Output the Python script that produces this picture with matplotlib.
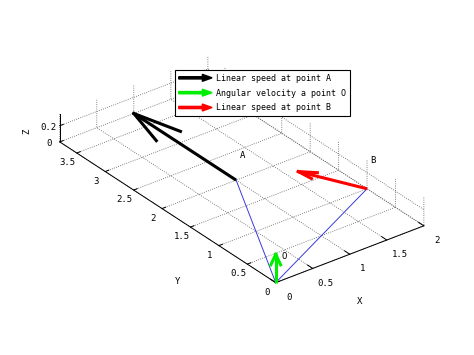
import numpy as np
import matplotlib.pyplot as plt
from matplotlib.patches import FancyArrow
from matplotlib.legend_handler import HandlerPatch

plt.rcParams['grid.linestyle'] = ':'
plt.rcParams['grid.color'] = '0.35'
plt.rcParams['grid.linewidth'] = 0.6
plt.rcParams['font.family'] = 'DejaVu Sans Mono'

# points of the mechanism
O = np.array([0.0, 0.0, 0.0])
A = np.array([1.0, 2.0, 0.0])
B = np.array([2.0, 1.0, 0.0])

# vectors
vA = np.array([0.0, 1.8, 0.0])      # linear speed at A
wO = np.array([0.0, 0.0, 0.35])     # angular velocity at O
vB = np.array([-0.36, 0.74, 0.0])   # linear speed at B

labels = ['Linear speed at point A', 'Angular velocity a point O', 'Linear speed at point B']
colors = ['black', '#00ee00', 'red']

xticks = [0, 0.5, 1, 1.5, 2]
xticklabels = ['0', '0.5', '1', '1.5', '2']
yticks = [0, 0.5, 1, 1.5, 2, 2.5, 3, 3.5]
yticklabels = ['0', '0.5', '1', '1.5', '2', '2.5', '3', '3.5']
zticks = [0, 0.2]
zticklabels = ['0', '0.2']

elev, azim = 30, -127.5
screen_right = np.array([-np.sin(np.radians(azim)), np.cos(np.radians(azim)), 0.0])


def arrow3(ax, P, V, color, lw, ratio, ang, perp=None):
    tip = P + V
    n = np.linalg.norm(V)
    u = -V / n
    if perp is None:
        perp = np.cross(V / n, [0, 0, 1])
        perp = perp / np.linalg.norm(perp)
    L = ratio * n
    a = np.radians(ang)
    ax.plot([P[0], tip[0]], [P[1], tip[1]], [P[2], tip[2]], color=color, lw=lw,
            solid_capstyle='butt')
    for s in (1, -1):
        b = tip + L * (np.cos(a) * u + s * np.sin(a) * perp)
        ax.plot([tip[0], b[0]], [tip[1], b[1]], [tip[2], b[2]], color=color, lw=lw)


fig = plt.figure(figsize=(4.74, 3.55), dpi=100, facecolor='w')
ax = fig.add_axes([0.0, 3 / 355, 1.0, 1.0], projection='3d', proj_type='ortho')
ax.set_xlim(0, 2)
ax.set_ylim(0, 3.8)
ax.set_zlim(0, 0.35)
ax.set_box_aspect((2, 3.8, 0.35), zoom=1.1)
ax.view_init(elev=elev, azim=azim)

for axis in (ax.xaxis, ax.yaxis, ax.zaxis):
    axis.set_pane_color((1, 1, 1, 0))
    axis.pane.set_edgecolor('none')
    axis.line.set_color('black')
    axis.line.set_linewidth(0.7)
    axis._axinfo['tick']['inward_factor'] = 0.0
    axis._axinfo['tick']['outward_factor'] = 0.3
    axis._axinfo['tick']['linewidth'] = {True: 0.7, False: 0.5}

ax.set_xticks(xticks)
ax.set_xticklabels(xticklabels)
ax.set_yticks(yticks)
ax.set_yticklabels(yticklabels)
ax.set_zticks(zticks)
ax.set_zticklabels(zticklabels)
ax.tick_params(labelsize=6.5, pad=0)
ax.tick_params(axis='z', pad=-4)

# axis names, placed like the reference
fig.text(360 / 474, 1 - 302 / 355, 'X', fontsize=6.5, ha='center', va='center')
fig.text(178 / 474, 1 - 281 / 355, 'Y', fontsize=6.5, ha='center', va='center')
fig.text(27 / 474, 1 - 131 / 355, 'Z', fontsize=6.5, ha='center', va='center',
         rotation=90)

# links O-A and O-B
ax.plot([O[0], A[0]], [O[1], A[1]], [O[2], A[2]], color='#3a3ae0', lw=0.7)
ax.plot([O[0], B[0]], [O[1], B[1]], [O[2], B[2]], color='#3a3ae0', lw=0.7)

arrow3(ax, A, vA, colors[0], 2.2, 0.35, 15)
arrow3(ax, O, wO, colors[1], 2.2, 0.4, 22, perp=screen_right)
arrow3(ax, B, vB, colors[2], 2.2, 0.25, 20)

ax.text(1.05, 2.0, 0.26, 'A', fontsize=6.5)
ax.text(2.05, 1.0, 0.3, 'B', fontsize=6.5)
ax.text(0.08, 0.0, 0.26, 'O', fontsize=6.5)


def make_arrow(legend, orig_handle, xdescent, ydescent, width, height, fontsize):
    return FancyArrow(0, 0.5 * height, width, 0, width=1.6, head_width=5,
                      head_length=7, length_includes_head=True)


handles = [FancyArrow(0, 0, 1, 0, color=c) for c in colors]
leg = fig.legend(handles, labels, loc='upper left',
                 bbox_to_anchor=(175 / 474, 1 - 70 / 355),
                 handler_map={FancyArrow: HandlerPatch(patch_func=make_arrow)},
                 fontsize=6, fancybox=False, framealpha=1, edgecolor='black',
                 borderpad=0.45, handlelength=4, handletextpad=0.45,
                 labelspacing=0.7, borderaxespad=0)
leg.get_frame().set_linewidth(0.8)

plt.savefig('out.png', dpi=100)
